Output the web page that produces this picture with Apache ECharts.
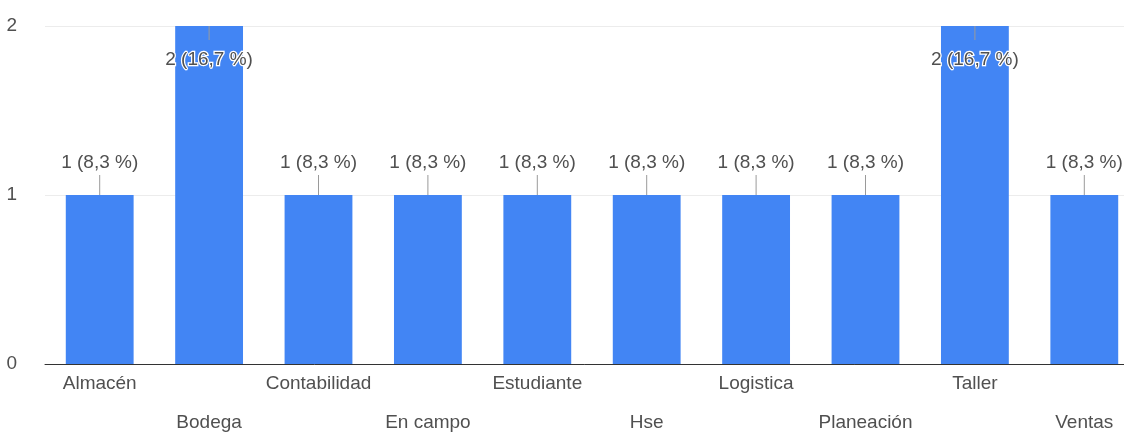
<!DOCTYPE html>
<html>
<head>
<meta charset="utf-8">
<script src="https://cdn.jsdelivr.net/npm/echarts@6/dist/echarts.min.js"></script>
<style>
  html, body { margin: 0; padding: 0; background: #fff; }
  #chart { width: 1124px; height: 433px; }
</style>
</head>
<body>
<div id="chart"></div>
<script>
// Respuestas por área
const categories = ['Almacén', 'Bodega', 'Contabilidad', 'En campo', 'Estudiante', 'Hse', 'Logistica', 'Planeación', 'Taller', 'Ventas'];
const counts = [1, 2, 1, 1, 1, 1, 1, 1, 2, 1];
const yTicks = [0, 1, 2];

const total = counts.reduce((a, b) => a + b, 0);
const yMax = yTicks[yTicks.length - 1];
const fmtLabel = v => v + ' (' + (v / total * 100).toFixed(1).replace('.', ',') + ' %)';

const font = '"Liberation Sans", Arial, sans-serif';
const textColor = '#505050';
const fontSize = 19;

// bars that reach the top of the axis get their label tucked inside
const barData = counts.map(v => v >= yMax
  ? { value: v, label: { position: 'insideTop', distance: 24, textBorderColor: '#fff', textBorderWidth: 2.5 } }
  : v);

const chart = echarts.init(document.getElementById('chart'), null, { renderer: 'canvas' });
chart.setOption({
  animation: false,
  backgroundColor: '#fff',
  grid: { left: 45, top: 26, bottom: 69, width: 1094, outerBoundsMode: 'none', containLabel: false },
  xAxis: {
    type: 'category',
    data: categories,
    axisTick: { show: false },
    axisLine: { lineStyle: { color: '#333', width: 1 } },
    axisLabel: {
      interval: 0,
      margin: 0,
      color: textColor,
      fontFamily: font,
      fontSize: fontSize,
      lineHeight: 39,
      formatter: (v, i) => (i % 2 ? '\n' + v : v)
    }
  },
  yAxis: {
    type: 'value',
    min: yTicks[0],
    max: yMax,
    interval: 1,
    axisLine: { show: false },
    axisTick: { show: false },
    splitLine: { lineStyle: { color: '#ececec', width: 1 } },
    axisLabel: { color: textColor, fontFamily: font, fontSize: fontSize, margin: 28 }
  },
  series: [
    {
      type: 'bar',
      data: barData,
      barWidth: '62%',
      itemStyle: { color: '#4285f4' },
      label: {
        show: true,
        position: 'top',
        distance: 23,
        color: textColor,
        fontFamily: font,
        fontSize: fontSize,
        formatter: p => fmtLabel(p.value)
      },
      z: 2
    },
    {
      // short stems joining each label to its bar
      type: 'custom',
      data: counts.map((v, i) => [i, v]),
      z: 3,
      silent: true,
      renderItem: (params, api) => {
        const p = api.coord([api.value(0), api.value(1)]);
        const inside = api.value(1) >= yMax;
        const y2 = inside ? p[1] + 14 : p[1] - 20;
        return {
          type: 'line',
          shape: { x1: p[0], y1: p[1], x2: p[0], y2: y2 },
          style: { stroke: '#9a9a9a', lineWidth: 1 }
        };
      }
    }
  ]
});
</script>
</body>
</html>
